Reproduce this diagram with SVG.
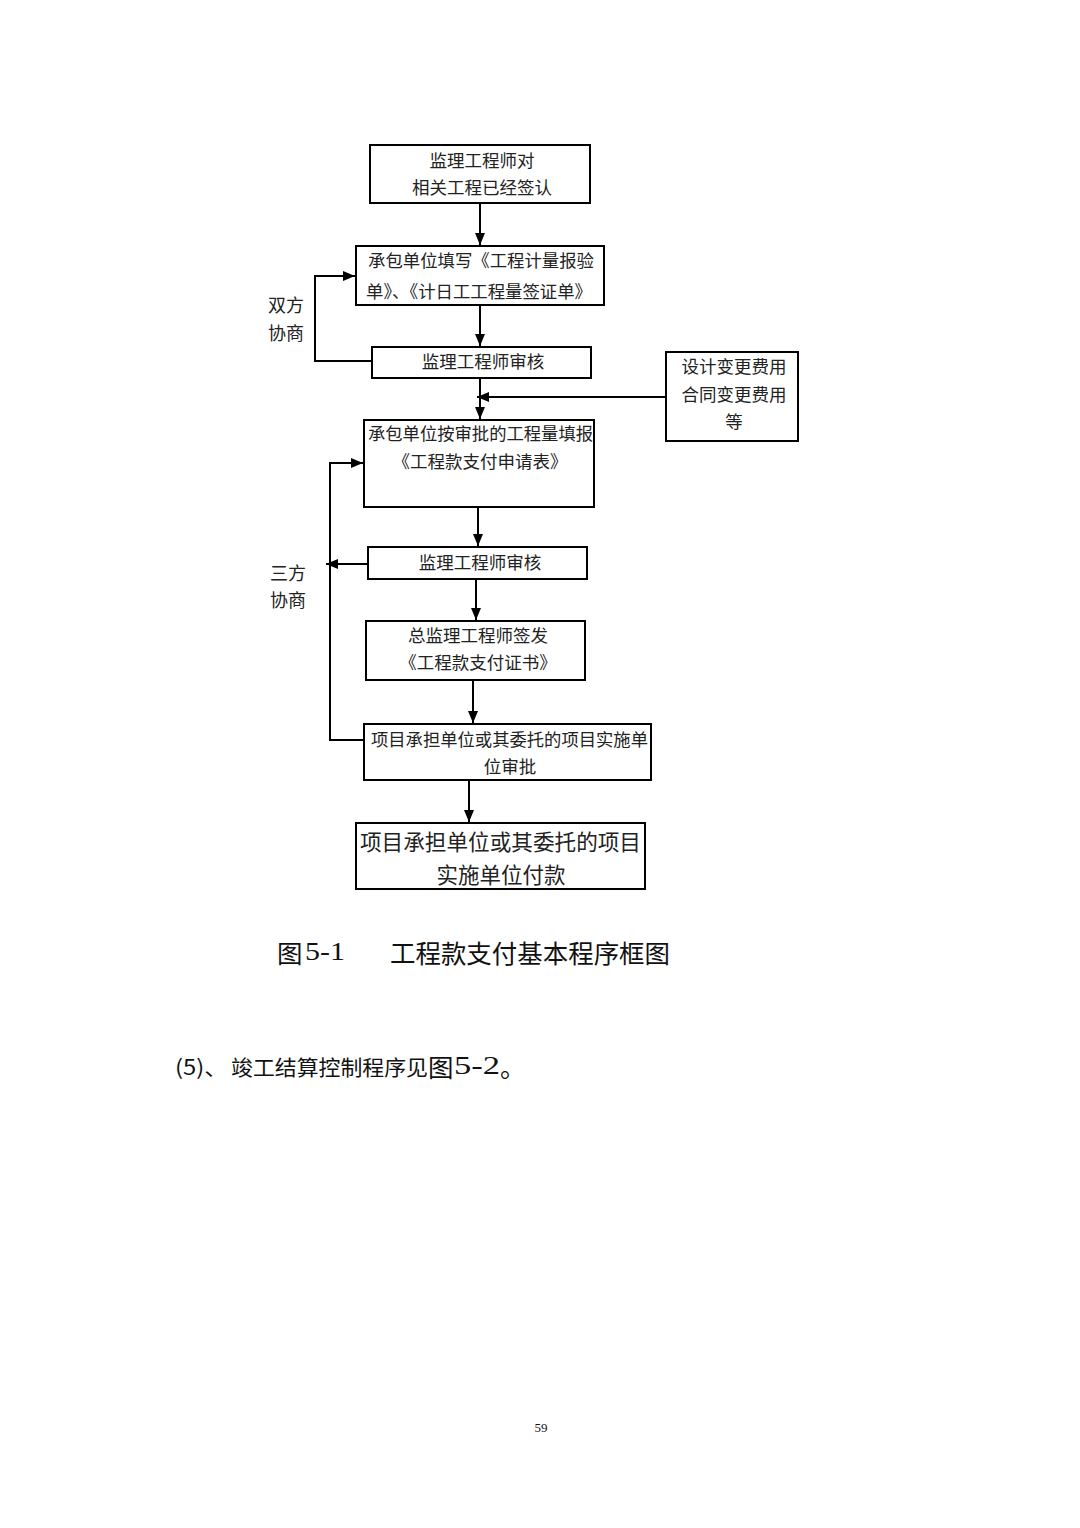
<svg xmlns="http://www.w3.org/2000/svg" width="1080" height="1528" viewBox="0 0 1080 1528">
<defs>
<marker id="ah" viewBox="0 0 12 10" refX="12" refY="5" markerWidth="12" markerHeight="10" markerUnits="userSpaceOnUse" orient="auto">
<path d="M0,0 L12,5 L0,10 Z" fill="#000"/>
</marker>
</defs>
<style>
.box{fill:#fff;stroke:#000;stroke-width:2}
.t{font-family:"Noto Sans CJK SC","Liberation Serif",serif;font-size:17.5px;fill:#222;dominant-baseline:central}
.c{text-anchor:middle}
.big{font-size:21.5px}
.lbl{font-family:"Noto Sans CJK SC","Liberation Serif",serif;font-size:18px;fill:#222;dominant-baseline:central}
.ln{fill:none;stroke:#000;stroke-width:2}
.cap{font-family:"Noto Sans CJK SC","Liberation Serif",serif;fill:#111;dominant-baseline:central}
.num{font-family:"Liberation Serif",serif}
</style>
<rect width="1080" height="1528" fill="#fff"/>
<g id="connectors">
<line class="ln" x1="480" y1="204" x2="480" y2="245" marker-end="url(#ah)"/>
<line class="ln" x1="480" y1="306" x2="480" y2="346" marker-end="url(#ah)"/>
<polyline class="ln" points="372,361 315,361 315,276 355,276" marker-end="url(#ah)"/>
<line class="ln" x1="480" y1="379" x2="480" y2="419" marker-end="url(#ah)"/>
<line class="ln" x1="666" y1="397" x2="477" y2="397" marker-end="url(#ah)"/>
<line class="ln" x1="478" y1="508" x2="478" y2="546" marker-end="url(#ah)"/>
<line class="ln" x1="368" y1="564" x2="326" y2="564" marker-end="url(#ah)"/>
<polyline class="ln" points="364,740 330,740 330,463 363,463" marker-end="url(#ah)"/>
<line class="ln" x1="476" y1="580" x2="476" y2="620" marker-end="url(#ah)"/>
<line class="ln" x1="473" y1="681" x2="473" y2="723" marker-end="url(#ah)"/>
<line class="ln" x1="469" y1="781" x2="469" y2="822" marker-end="url(#ah)"/>
</g>
<g id="n1"><rect class="box" x="370" y="145" width="220" height="58"/>
<text class="t c" x="482" y="159">监理工程师对</text>
<text class="t c" x="482" y="186">相关工程已经签认</text></g>
<g id="n2"><rect class="box" x="356" y="246" width="248" height="59"/>
<text class="t" x="368" y="259" textLength="226" lengthAdjust="spacingAndGlyphs">承包单位填写《工程计量报验</text>
<text class="t" x="366" y="290" textLength="226" lengthAdjust="spacingAndGlyphs">单》、《计日工工程量签证单》</text></g>
<g id="n3"><rect class="box" x="372" y="347" width="219" height="31"/>
<text class="t c" x="483" y="360">监理工程师审核</text></g>
<g id="n5"><rect class="box" x="666" y="352" width="132" height="89"/>
<text class="t c" x="734" y="365">设计变更费用</text>
<text class="t c" x="734" y="393">合同变更费用</text>
<text class="t c" x="734" y="420">等</text></g>
<g id="n4"><rect class="box" x="364" y="420" width="230" height="87"/>
<text class="t" x="368" y="432" textLength="225" lengthAdjust="spacingAndGlyphs">承包单位按审批的工程量填报</text>
<text class="t c" x="480" y="460">《工程款支付申请表》</text></g>
<g id="n6"><rect class="box" x="368" y="547" width="219" height="32"/>
<text class="t c" x="480" y="561">监理工程师审核</text></g>
<g id="n7"><rect class="box" x="366" y="621" width="219" height="59"/>
<text class="t c" x="478" y="634">总监理工程师签发</text>
<text class="t c" x="478" y="661">《工程款支付证书》</text></g>
<g id="n8"><rect class="box" x="364" y="724" width="287" height="56"/>
<text class="t" x="371" y="738" textLength="277" lengthAdjust="spacingAndGlyphs">项目承担单位或其委托的项目实施单</text>
<text class="t c" x="510" y="765">位审批</text></g>
<g id="n9"><rect class="box" x="356" y="823" width="289" height="66"/>
<text class="t big" x="360" y="840" textLength="281" lengthAdjust="spacingAndGlyphs">项目承担单位或其委托的项目</text>
<text class="t big c" x="501" y="873">实施单位付款</text></g>
<g id="labels">
<text class="lbl" x="268" y="304">双方</text>
<text class="lbl" x="268" y="332">协商</text>
<text class="lbl" x="270" y="572">三方</text>
<text class="lbl" x="270" y="599">协商</text>
</g>
<g id="caption">
<text class="cap" x="277" y="951" font-size="25.5">图</text>
<text class="cap num" x="305" y="951" font-size="26" textLength="40" lengthAdjust="spacingAndGlyphs">5-1</text>
<text class="cap" x="390" y="951" font-size="25.5" textLength="280" lengthAdjust="spacingAndGlyphs">工程款支付基本程序框图</text>
<text class="cap" x="175" y="1066" font-size="21" textLength="53" lengthAdjust="spacingAndGlyphs">(5)、</text>
<text class="cap" x="231" y="1066" font-size="21" textLength="197" lengthAdjust="spacingAndGlyphs">竣工结算控制程序见</text>
<text class="cap" x="428" y="1065" font-size="25.5">图</text>
<text class="cap num" x="454" y="1065" font-size="26" textLength="46" lengthAdjust="spacingAndGlyphs">5-2</text>
<text class="cap" x="500" y="1065" font-size="25.5">。</text>
<text class="cap num" x="541" y="1427" font-size="13" text-anchor="middle" fill="#333">59</text>
</g>
</svg>
